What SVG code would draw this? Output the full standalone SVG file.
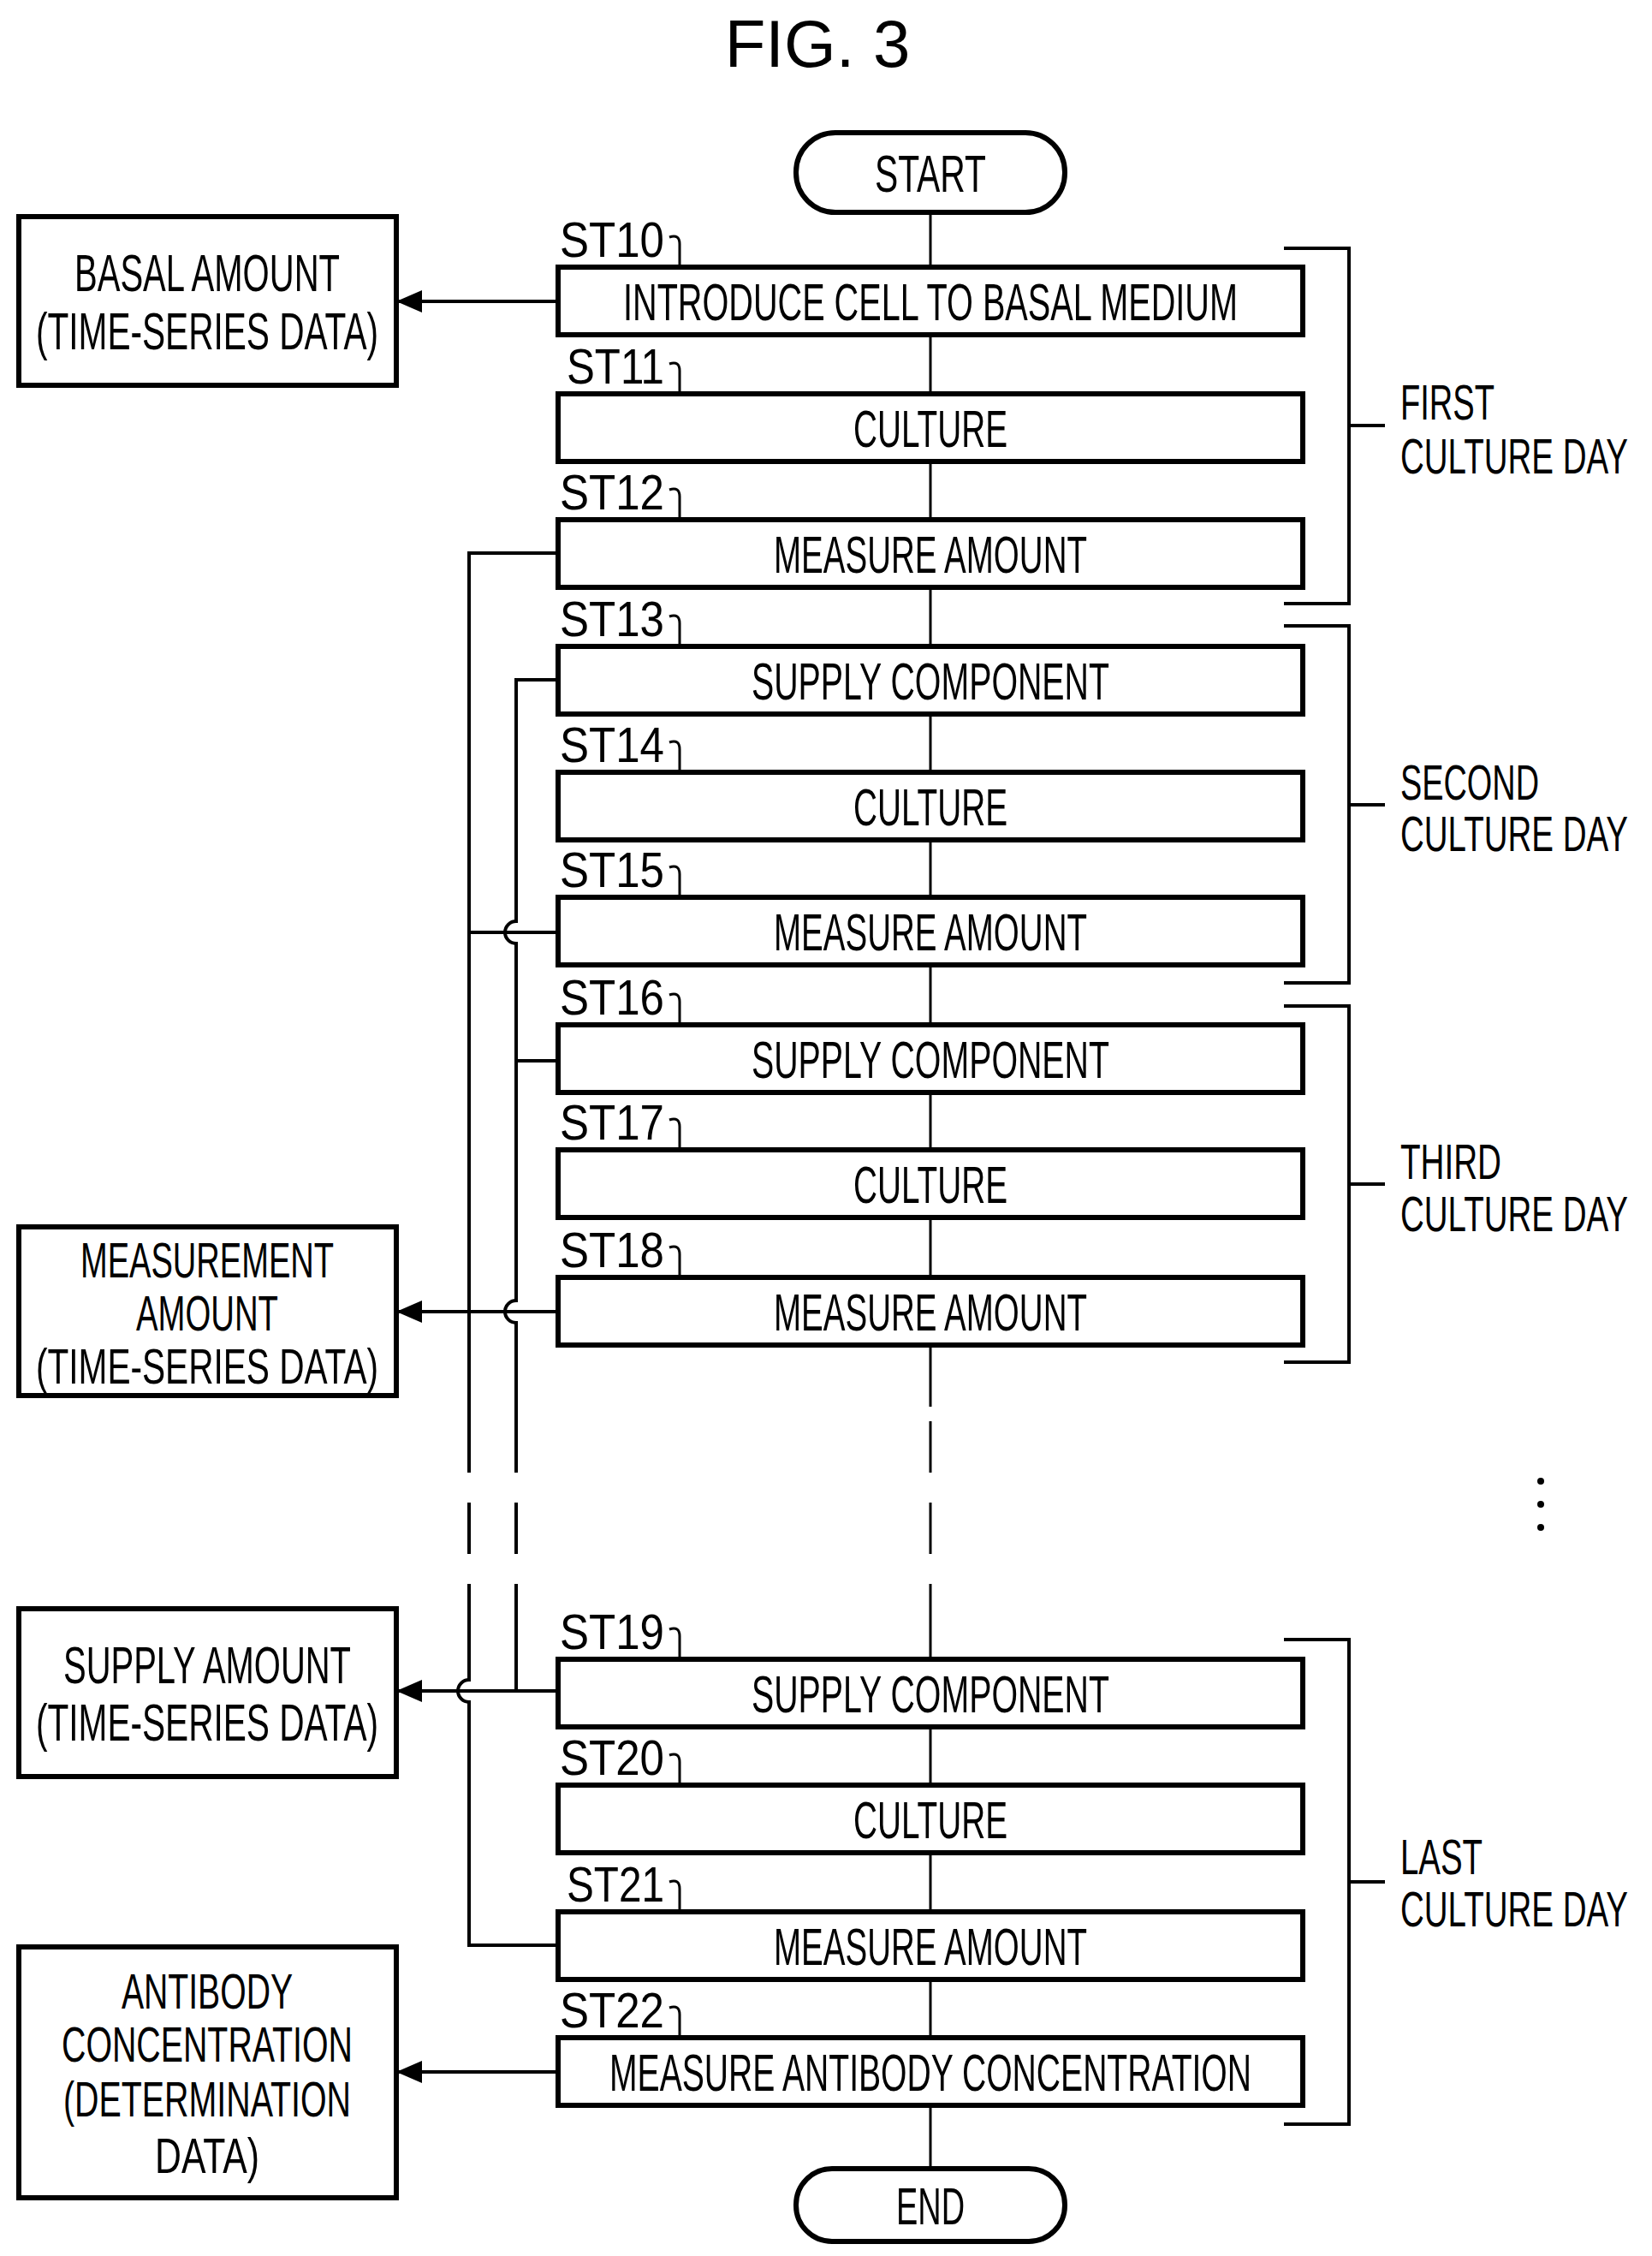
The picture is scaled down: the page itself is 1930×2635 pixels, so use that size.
<svg xmlns="http://www.w3.org/2000/svg" width="1930" height="2635" viewBox="0 0 1930 2635">
<style>
.b{fill:#fff;stroke:#000;stroke-width:6}
.t{font-family:"Liberation Sans Narrow","Liberation Sans",sans-serif;font-size:62px;text-anchor:middle;fill:#000}
.s{font-family:"Liberation Sans Narrow","Liberation Sans",sans-serif;font-size:58px;fill:#000}
.l{fill:none;stroke:#000;stroke-width:3}
.k{fill:none;stroke:#000;stroke-width:4}
.d{stroke-dasharray:60,35}
</style>
<defs>
<marker id="ar" markerWidth="30" markerHeight="26" refX="28" refY="13" orient="auto" markerUnits="userSpaceOnUse"><path d="M0,0 L30,13 L0,26z" fill="#000"/></marker></defs>
<text x="955" y="78" style="font-family:'Liberation Sans Narrow','Liberation Sans',sans-serif;font-size:78px;text-anchor:middle">FIG. 3</text>
<g id="connectors">
<path class="l" d="M1087,248V1643M1087,1870V2533"/>
<path class="l d" d="M1087,1660V1870"/>
<path class="k" d="M652,646H548V1660M548,1870V1962a13,13 0 0 0 0,26V2272H652"/>
<path class="k d" d="M548,1660V1870M603,1660V1870"/>
<path class="k" d="M652,1089H548"/>
<path class="k" d="M652,794H603V1076a13,13 0 0 0 0,26V1519a13,13 0 0 0 0,26V1660M603,1870V1975"/>
<path class="k" d="M652,1239H603"/>
<path class="k" d="M652,352H465" marker-end="url(#ar)"/>
<path class="k" d="M652,1532H465" marker-end="url(#ar)"/>
<path class="k" d="M652,1975H465" marker-end="url(#ar)"/>
<path class="k" d="M652,2420H465" marker-end="url(#ar)"/>
<path class="k" d="M1500,290H1576V705H1500M1576,497H1618M1500,731H1576V1148H1500M1576,940H1618M1500,1175H1576V1591H1500M1576,1383H1618M1500,1915H1576V2481H1500M1576,2198H1618"/>
</g>
<g id="start"><rect class="b" x="930" y="155" width="314" height="93" rx="46"/><text class="t" x="1087" y="224" textLength="130" lengthAdjust="spacingAndGlyphs">START</text></g>
<g id="end"><rect class="b" x="930" y="2533" width="314" height="85" rx="42"/><text class="t" x="1087" y="2598" textLength="80" lengthAdjust="spacingAndGlyphs">END</text></g>
<g id="st10"><rect class="b" x="652" y="312" width="870" height="79"/><text class="t" x="1087" y="374" textLength="718" lengthAdjust="spacingAndGlyphs">INTRODUCE CELL TO BASAL MEDIUM</text><text class="s" x="654" y="300" textLength="122" lengthAdjust="spacingAndGlyphs">ST10</text><path class="l" d="M782,277q12,-4 12,8V312"/></g>
<g id="st11"><rect class="b" x="652" y="460" width="870" height="79"/><text class="t" x="1087" y="522" textLength="180" lengthAdjust="spacingAndGlyphs">CULTURE</text><text class="s" x="662" y="448" textLength="114" lengthAdjust="spacingAndGlyphs">ST11</text><path class="l" d="M782,425q12,-4 12,8V460"/></g>
<g id="st12"><rect class="b" x="652" y="607" width="870" height="79"/><text class="t" x="1087" y="669" textLength="366" lengthAdjust="spacingAndGlyphs">MEASURE AMOUNT</text><text class="s" x="654" y="595" textLength="122" lengthAdjust="spacingAndGlyphs">ST12</text><path class="l" d="M782,572q12,-4 12,8V607"/></g>
<g id="st13"><rect class="b" x="652" y="755" width="870" height="79"/><text class="t" x="1087" y="817" textLength="418" lengthAdjust="spacingAndGlyphs">SUPPLY COMPONENT</text><text class="s" x="654" y="743" textLength="122" lengthAdjust="spacingAndGlyphs">ST13</text><path class="l" d="M782,720q12,-4 12,8V755"/></g>
<g id="st14"><rect class="b" x="652" y="902" width="870" height="79"/><text class="t" x="1087" y="964" textLength="180" lengthAdjust="spacingAndGlyphs">CULTURE</text><text class="s" x="654" y="890" textLength="122" lengthAdjust="spacingAndGlyphs">ST14</text><path class="l" d="M782,867q12,-4 12,8V902"/></g>
<g id="st15"><rect class="b" x="652" y="1048" width="870" height="79"/><text class="t" x="1087" y="1110" textLength="366" lengthAdjust="spacingAndGlyphs">MEASURE AMOUNT</text><text class="s" x="654" y="1036" textLength="122" lengthAdjust="spacingAndGlyphs">ST15</text><path class="l" d="M782,1013q12,-4 12,8V1048"/></g>
<g id="st16"><rect class="b" x="652" y="1197" width="870" height="79"/><text class="t" x="1087" y="1259" textLength="418" lengthAdjust="spacingAndGlyphs">SUPPLY COMPONENT</text><text class="s" x="654" y="1185" textLength="122" lengthAdjust="spacingAndGlyphs">ST16</text><path class="l" d="M782,1162q12,-4 12,8V1197"/></g>
<g id="st17"><rect class="b" x="652" y="1343" width="870" height="79"/><text class="t" x="1087" y="1405" textLength="180" lengthAdjust="spacingAndGlyphs">CULTURE</text><text class="s" x="654" y="1331" textLength="122" lengthAdjust="spacingAndGlyphs">ST17</text><path class="l" d="M782,1308q12,-4 12,8V1343"/></g>
<g id="st18"><rect class="b" x="652" y="1492" width="870" height="79"/><text class="t" x="1087" y="1554" textLength="366" lengthAdjust="spacingAndGlyphs">MEASURE AMOUNT</text><text class="s" x="654" y="1480" textLength="122" lengthAdjust="spacingAndGlyphs">ST18</text><path class="l" d="M782,1457q12,-4 12,8V1492"/></g>
<g id="st19"><rect class="b" x="652" y="1938" width="870" height="79"/><text class="t" x="1087" y="2000" textLength="418" lengthAdjust="spacingAndGlyphs">SUPPLY COMPONENT</text><text class="s" x="654" y="1926" textLength="122" lengthAdjust="spacingAndGlyphs">ST19</text><path class="l" d="M782,1903q12,-4 12,8V1938"/></g>
<g id="st20"><rect class="b" x="652" y="2085" width="870" height="79"/><text class="t" x="1087" y="2147" textLength="180" lengthAdjust="spacingAndGlyphs">CULTURE</text><text class="s" x="654" y="2073" textLength="122" lengthAdjust="spacingAndGlyphs">ST20</text><path class="l" d="M782,2050q12,-4 12,8V2085"/></g>
<g id="st21"><rect class="b" x="652" y="2233" width="870" height="79"/><text class="t" x="1087" y="2295" textLength="366" lengthAdjust="spacingAndGlyphs">MEASURE AMOUNT</text><text class="s" x="662" y="2221" textLength="114" lengthAdjust="spacingAndGlyphs">ST21</text><path class="l" d="M782,2198q12,-4 12,8V2233"/></g>
<g id="st22"><rect class="b" x="652" y="2380" width="870" height="79"/><text class="t" x="1087" y="2442" textLength="750" lengthAdjust="spacingAndGlyphs">MEASURE ANTIBODY CONCENTRATION</text><text class="s" x="654" y="2368" textLength="122" lengthAdjust="spacingAndGlyphs">ST22</text><path class="l" d="M782,2345q12,-4 12,8V2380"/></g>
<g id="basal"><rect class="b" x="22" y="253" width="441" height="197"/><text class="t" x="242" y="340" textLength="310" lengthAdjust="spacingAndGlyphs">BASAL AMOUNT</text><text class="t" x="242" y="408" textLength="400" lengthAdjust="spacingAndGlyphs">(TIME-SERIES DATA)</text></g>
<g id="measurement"><rect class="b" x="22" y="1433" width="441" height="197"/><text class="t" x="242" y="1492" textLength="296" lengthAdjust="spacingAndGlyphs" style="font-size:58px">MEASUREMENT</text><text class="t" x="242" y="1554" textLength="166" lengthAdjust="spacingAndGlyphs" style="font-size:58px">AMOUNT</text><text class="t" x="242" y="1616" textLength="400" lengthAdjust="spacingAndGlyphs" style="font-size:58px">(TIME-SERIES DATA)</text></g>
<g id="supply"><rect class="b" x="22" y="1879" width="441" height="196"/><text class="t" x="242" y="1966" textLength="336" lengthAdjust="spacingAndGlyphs">SUPPLY AMOUNT</text><text class="t" x="242" y="2033" textLength="400" lengthAdjust="spacingAndGlyphs">(TIME-SERIES DATA)</text></g>
<g id="antibody" style="font-size:58px"><rect class="b" x="22" y="2274" width="441" height="293"/><text class="t" x="242" y="2346" textLength="200" lengthAdjust="spacingAndGlyphs" style="font-size:58px">ANTIBODY</text><text class="t" x="242" y="2408" textLength="340" lengthAdjust="spacingAndGlyphs" style="font-size:58px">CONCENTRATION</text><text class="t" x="242" y="2472" textLength="336" lengthAdjust="spacingAndGlyphs" style="font-size:58px">(DETERMINATION</text><text class="t" x="242" y="2538" textLength="122" lengthAdjust="spacingAndGlyphs" style="font-size:58px">DATA)</text></g>
<g id="days">
<text class="s" x="1636" y="490" textLength="110" lengthAdjust="spacingAndGlyphs">FIRST</text><text class="s" x="1636" y="553" textLength="266" lengthAdjust="spacingAndGlyphs">CULTURE DAY</text>
<text class="s" x="1636" y="934" textLength="162" lengthAdjust="spacingAndGlyphs">SECOND</text><text class="s" x="1636" y="994" textLength="266" lengthAdjust="spacingAndGlyphs">CULTURE DAY</text>
<text class="s" x="1636" y="1377" textLength="118" lengthAdjust="spacingAndGlyphs">THIRD</text><text class="s" x="1636" y="1438" textLength="266" lengthAdjust="spacingAndGlyphs">CULTURE DAY</text>
<text class="s" x="1636" y="2189" textLength="96" lengthAdjust="spacingAndGlyphs">LAST</text><text class="s" x="1636" y="2250" textLength="266" lengthAdjust="spacingAndGlyphs">CULTURE DAY</text>
<circle cx="1800" cy="1730" r="4"/><circle cx="1800" cy="1757" r="4"/><circle cx="1800" cy="1784" r="4"/>
</g>
</svg>
